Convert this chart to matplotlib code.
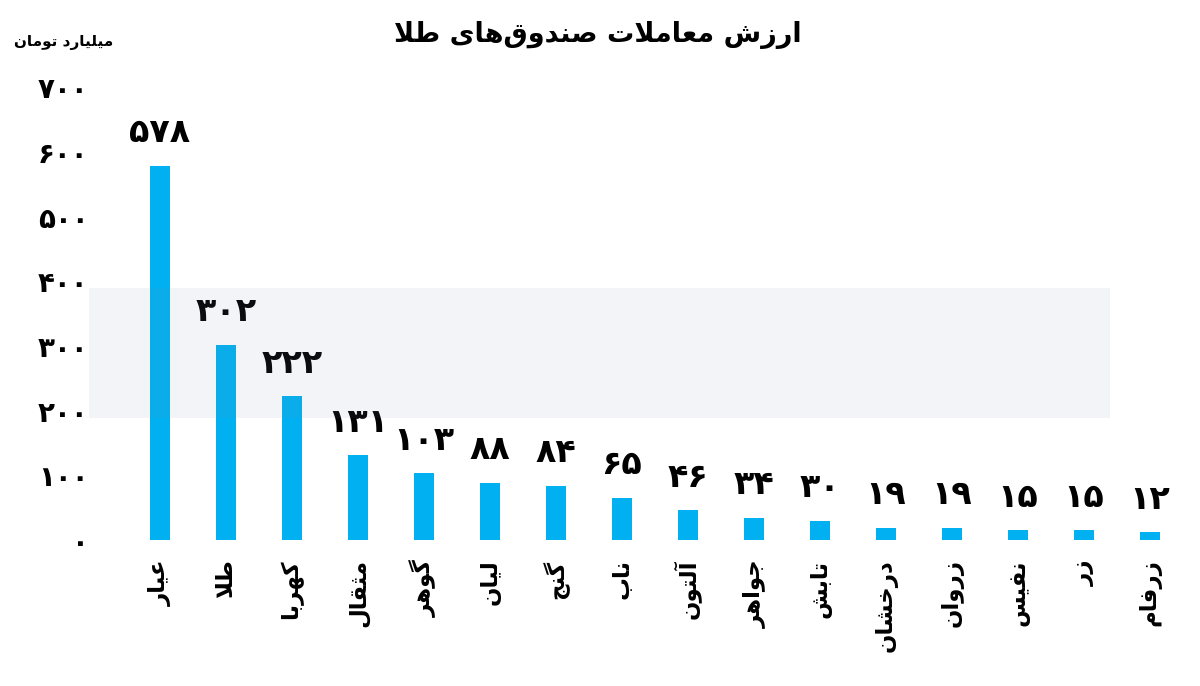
import matplotlib
matplotlib.use('Agg')
from matplotlib import pyplot as plt
from matplotlib.patches import Rectangle

# data
funds = ['عیار', 'طلا', 'کهربا', 'مثقال', 'گوهر', 'لیان', 'گنج', 'ناب',
         'آلتون', 'جواهر', 'تابش', 'درخشان', 'زروان', 'نفیس', 'زر', 'زرفام']
values = [578, 302, 222, 131, 103, 88, 84, 65, 46, 34, 30, 19, 19, 15, 15, 12]
y_ticks = [0, 100, 200, 300, 400, 500, 600, 700]
title = 'ارزش معاملات صندوق\u200cهای طلا'
unit = 'میلیارد تومان'

BAR_COLOR = '#00B0F0'

# matplotlib does no arabic shaping, so map letters to presentation forms by hand
# (isolated, final, initial, medial); two entries means the letter only joins to the right
FORMS = {
    'ا': (0xFE8D, 0xFE8E), 'آ': (0xFE81, 0xFE82),
    'ب': (0xFE8F, 0xFE90, 0xFE91, 0xFE92), 'پ': (0xFB56, 0xFB57, 0xFB58, 0xFB59),
    'ت': (0xFE95, 0xFE96, 0xFE97, 0xFE98), 'ث': (0xFE99, 0xFE9A, 0xFE9B, 0xFE9C),
    'ج': (0xFE9D, 0xFE9E, 0xFE9F, 0xFEA0), 'چ': (0xFB7A, 0xFB7B, 0xFB7C, 0xFB7D),
    'ح': (0xFEA1, 0xFEA2, 0xFEA3, 0xFEA4), 'خ': (0xFEA5, 0xFEA6, 0xFEA7, 0xFEA8),
    'د': (0xFEA9, 0xFEAA), 'ذ': (0xFEAB, 0xFEAC), 'ر': (0xFEAD, 0xFEAE),
    'ز': (0xFEAF, 0xFEB0), 'ژ': (0xFB8A, 0xFB8B),
    'س': (0xFEB1, 0xFEB2, 0xFEB3, 0xFEB4), 'ش': (0xFEB5, 0xFEB6, 0xFEB7, 0xFEB8),
    'ص': (0xFEB9, 0xFEBA, 0xFEBB, 0xFEBC), 'ض': (0xFEBD, 0xFEBE, 0xFEBF, 0xFEC0),
    'ط': (0xFEC1, 0xFEC2, 0xFEC3, 0xFEC4), 'ظ': (0xFEC5, 0xFEC6, 0xFEC7, 0xFEC8),
    'ع': (0xFEC9, 0xFECA, 0xFECB, 0xFECC), 'غ': (0xFECD, 0xFECE, 0xFECF, 0xFED0),
    'ف': (0xFED1, 0xFED2, 0xFED3, 0xFED4), 'ق': (0xFED5, 0xFED6, 0xFED7, 0xFED8),
    'ک': (0xFB8E, 0xFB8F, 0xFB90, 0xFB91), 'گ': (0xFB92, 0xFB93, 0xFB94, 0xFB95),
    'ل': (0xFEDD, 0xFEDE, 0xFEDF, 0xFEE0), 'م': (0xFEE1, 0xFEE2, 0xFEE3, 0xFEE4),
    'ن': (0xFEE5, 0xFEE6, 0xFEE7, 0xFEE8), 'ه': (0xFEE9, 0xFEEA, 0xFEEB, 0xFEEC),
    'و': (0xFEED, 0xFEEE), 'ی': (0xFBFC, 0xFBFD, 0xFBFE, 0xFBFF),
}


def shape(text):
    out = []
    chars = list(text)
    i = 0
    while i < len(chars):
        c = chars[i]
        if c not in FORMS:
            if c != '\u200c':
                out.append(c)
            i += 1
            continue
        prev = chars[i - 1] if i > 0 else None
        join_prev = prev in FORMS and len(FORMS[prev]) == 4
        nxt = chars[i + 1] if i + 1 < len(chars) else None
        # lam + alef ligature
        if c == 'ل' and nxt in ('ا', 'آ'):
            if nxt == 'ا':
                out.append(chr(0xFEFC if join_prev else 0xFEFB))
            else:
                out.append(chr(0xFEF6 if join_prev else 0xFEF5))
            i += 2
            continue
        f = FORMS[c]
        join_next = len(f) == 4 and nxt in FORMS
        if join_prev and join_next:
            out.append(chr(f[3]))
        elif join_prev:
            out.append(chr(f[1]))
        elif join_next:
            out.append(chr(f[2]))
        else:
            out.append(chr(f[0]))
        i += 1
    return ''.join(out)[::-1]


def fa_num(n):
    return str(n).translate(str.maketrans('0123456789', '۰۱۲۳۴۵۶۷۸۹'))


plt.rcParams['font.family'] = ['DejaVu Sans']

fig = plt.figure(figsize=(12, 6.86), dpi=100)
ax = fig.add_axes([0.0783, 0.2128, 0.9184, 0.679])

x = list(range(len(funds)))
bars = ax.bar(x, values, width=0.30, color=BAR_COLOR, zorder=2)

for xi, v in zip(x, values):
    ax.annotate(fa_num(v), (xi, v), xytext=(0, 12), textcoords='offset points',
                ha='center', va='bottom', fontsize=24, fontweight='bold')

ax.set_xlim(-1, 15.7)
ax.set_ylim(0, 720)
ax.set_yticks(y_ticks)
ax.set_yticklabels([fa_num(t) for t in y_ticks], fontsize=20, fontweight='bold')
ax.set_xticks(x)
ax.set_xticklabels([shape(f) for f in funds], rotation=90, fontsize=16.5,
                   fontweight='bold', va='top', ha='center')
ax.tick_params(axis='both', length=0)
ax.tick_params(axis='y', pad=4)
ax.tick_params(axis='x', pad=14)
for s in ax.spines.values():
    s.set_visible(False)

# faint watermark band across the middle
fig.patches.append(Rectangle((0.074, 1 - 418 / 686), 0.851, 130 / 686,
                             transform=fig.transFigure, color='#7a88b0',
                             alpha=0.09, zorder=5, linewidth=0))

fig.text(0.498, 1 - 35 / 686, shape(title), ha='center', va='center',
         fontsize=19.5, fontweight='bold')
fig.text(0.094, 1 - 42 / 686, shape(unit), ha='right', va='center',
         fontsize=11, fontweight='bold')

fig.savefig('out.png', dpi=100)
